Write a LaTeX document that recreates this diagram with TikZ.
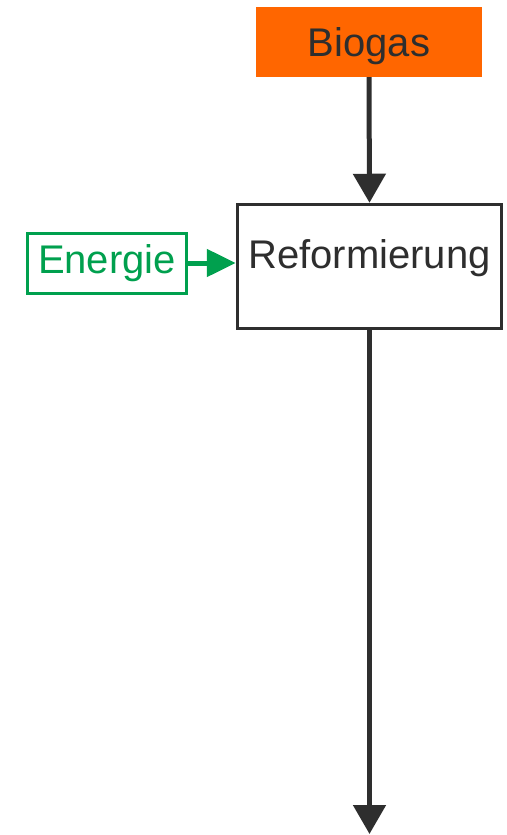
\documentclass[tikz,border=0pt]{standalone}
\usepackage{fontspec}
\setmainfont{Liberation Sans}
\usetikzlibrary{arrows.meta}
\definecolor{dark}{HTML}{2E2E2E}
\definecolor{orng}{HTML}{FF6600}
\definecolor{grn}{HTML}{00A04E}
\tikzset{
  box/.style={rectangle, inner sep=0pt, font=\fontsize{40}{40}\selectfont, text=dark},
  flow/.style={draw=dark, line width=5pt, -{Triangle[width=32pt,length=29pt]}},
  gflow/.style={draw=grn, line width=5pt, -{Triangle[width=27pt,length=29pt]}}
}
\begin{document}
\begin{tikzpicture}[x=1pt,y=-1pt]
\useasboundingbox[fill=white] (0,0) rectangle (506,835);
\node[box, fill=orng, minimum width=226pt, minimum height=70pt, text depth=0pt] (bio) at (369,42) {Biogas};
\node[box, draw=dark, line width=3.5pt, fill=white, minimum width=264pt, minimum height=124pt, text depth=24pt] (ref) at (369.5,266.5) {Reformierung};
\node[box, draw=grn, line width=3pt, text=grn, minimum width=159pt, minimum height=60pt] (en) at (107,263) {Energie};
\coordinate (out) at (369.5,834);
\draw[flow] (bio.south) -- (ref.north);
\draw[gflow] (en.east) -- (en.east -| ref.west);
\draw[flow] (ref.south) -- (out);
\end{tikzpicture}
\end{document}
